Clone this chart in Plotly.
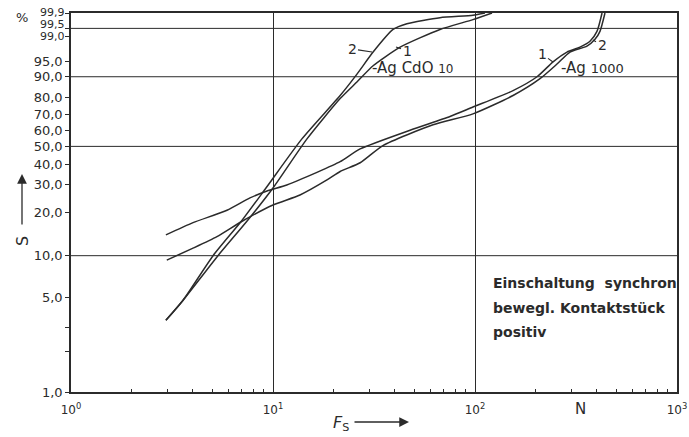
import numpy as np
import plotly.graph_objects as go

# ---------------- data (N = switching operations, S = cumulative %) -------------
agcdo1_n = [2.95, 3.58, 5.34, 7.46, 10.0, 14.7, 21.5, 26.1, 31.3, 42.6, 67.1, 97.7, 121.4]
agcdo1_s = [3.4, 4.75, 10.0, 17.5, 28.7, 54.4, 79.4, 87.9, 93.8, 97.84, 99.45, 99.79, 99.9]

agcdo2_n = [2.95, 3.58, 5.05, 7.0, 9.23, 13.87, 21.5, 26.1, 31.3, 39.3, 46.0, 67.1, 97.7, 112.0]
agcdo2_s = [3.4, 4.75, 10.0, 17.5, 28.7, 54.4, 81.1, 91.1, 97.05, 99.45, 99.68, 99.83, 99.87, 99.9]

ag1_n = [2.95, 4.02, 5.92, 7.69, 9.34, 11.7, 16.5, 21.5, 27.0, 47.7, 75.2, 97.7,
         154.3, 202.8, 243.4, 285.3, 331.0, 370.8, 401.6, 425.5]
ag1_s = [14.0, 17.0, 20.6, 24.8, 27.5, 30.0, 35.8, 41.3, 48.5, 60.0, 68.7, 74.5,
         83.7, 90.0, 94.9, 97.05, 97.84, 98.57, 99.35, 99.9]

ag2_n = [2.98, 4.02, 5.28, 7.10, 10.0, 13.6, 18.5, 21.5, 27.0, 35.0, 62.0, 97.7,
         154.3, 209.8, 254.7, 295.3, 358.3, 392.7, 415.6, 440.0]
ag2_s = [9.3, 11.3, 13.6, 17.5, 22.3, 25.9, 32.2, 36.2, 40.7, 50.5, 63.4, 70.3,
         81.1, 89.2, 94.3, 97.05, 97.98, 98.76, 99.35, 99.9]

# y ticks; the three crowded top labels are set as separate texts
y_tick_vals = [99.9, 99.5, 99.0, 95.0, 90.0, 80.0, 70.0, 60.0, 50.0, 40.0, 30.0,
               20.0, 10.0, 5.0, 3.0, 2.0, 1.0]
y_tick_text = ["", "", "", "95,0", "90,0", "80,0", "70,0", "60,0", "50,0",
               "40,0", "30,0", "20,0", "10,0", "5,0", "", "", "1,0"]
y_top_labels = ["99,9", "99,5", "99,0"]
y_grid_vals = [99.5, 90.0, 50.0, 10.0]
y_range_pct = [1.0, 99.9]

x_tick_vals = [1, 10, 100, 1000]
x_tick_text = ["10<sup>0</sup>", "10<sup>1</sup>", "10<sup>2</sup>", "10<sup>3</sup>"]
x_minor_vals = [m * d for d in (1, 10, 100) for m in range(2, 10)]


def weib(p):
    """Weibull probability scale: ln(-ln(1-F))."""
    p = np.asarray(p, dtype=float) / 100.0
    return np.log(-np.log(1.0 - p))


INK = "#2b2b2b"
FONT = "DejaVu Sans"

fig = go.Figure()
for n, s in [(agcdo1_n, agcdo1_s), (agcdo2_n, agcdo2_s), (ag1_n, ag1_s), (ag2_n, ag2_s)]:
    fig.add_trace(go.Scatter(x=n, y=weib(s), mode="lines",
                             line=dict(color=INK, width=1.5, shape="spline", smoothing=0.6),
                             showlegend=False, hoverinfo="skip"))

# horizontal grid lines
for g in y_grid_vals:
    fig.add_shape(type="line", xref="paper", x0=0, x1=1, yref="y",
                  y0=float(weib(g)), y1=float(weib(g)),
                  line=dict(color=INK, width=1), layer="below")

L, R, T, B = 71, 12, 13, 45
W, H = 689, 437
PW, PH = W - L - R, H - T - B


def px(xp):
    return (xp - L) / PW


def py(yp):
    return (H - B - yp) / PH


def text_at(txt, x, y, size=14, xanchor="center", **kw):
    d = dict(text=txt, x=px(x), y=py(y), xref="paper", yref="paper", xanchor=xanchor,
             yanchor="middle", showarrow=False,
             font=dict(size=size, family=FONT, color=INK, **kw.pop("fontkw", {})))
    d.update(kw)
    return d


def leader(txt, x, y, ax, ay):
    return dict(text=txt, x=px(x), y=py(y), xref="paper", yref="paper", showarrow=True,
                ax=ax, ay=ay, arrowhead=0, arrowwidth=1.1, arrowcolor=INK, standoff=0,
                font=dict(size=14, family=FONT, color=INK))


ann = []
# crowded top y labels (squeezed like the original)
for txt, yy in zip(y_top_labels, [12.5, 24.5, 36.5]):
    ann.append(text_at(txt, 67, yy, size=11, xanchor="right"))
ann.append(text_at("%", 22, 17, size=13))
# axis titles
ann.append(text_at("S", 22, 241, size=16, textangle=-90))
ann.append(dict(text="", x=px(22), y=py(174), xref="paper", yref="paper", showarrow=True,
                ax=0, ay=52, arrowhead=2, arrowsize=1.5, arrowwidth=1.3, arrowcolor=INK))
ann.append(text_at("<i>F</i><sub>S</sub>", 341, 423, size=16))
ann.append(dict(text="", x=px(409), y=py(422), xref="paper", yref="paper", showarrow=True,
                ax=-56, ay=0, arrowhead=2, arrowsize=1.5, arrowwidth=1.3, arrowcolor=INK))
ann.append(text_at("N", 580, 409, size=15))

# curve labels
ann.append(leader("2", 372, 52, -20, -3))
ann.append(leader("1", 396, 47, 11, 4))
ann.append(text_at("-Ag CdO <span style='font-size:12px'>10</span>", 370, 68, size=15,
                   xanchor="left"))
ann.append(leader("1", 553, 62, -11, -8))
ann.append(text_at("-Ag <span style='font-size:13px'>1000</span>", 559, 68, size=15,
                   xanchor="left"))
ann.append(leader("2", 593, 40, 9, 5))

# description text
desc_lines = ["Einschaltung  synchron", "bewegl. Kontaktstück", "positiv"]
for txt, yy in zip(desc_lines, [283, 308, 332]):
    ann.append(text_at(txt, 491, yy, size=14, xanchor="left", fontkw=dict(weight=600)))

fig.update_layout(
    width=W, height=H, margin=dict(l=L, r=R, t=T, b=B, autoexpand=False),
    paper_bgcolor="white", plot_bgcolor="white",
    font=dict(family=FONT, color=INK),
    annotations=ann,
    xaxis=dict(type="log", range=[0, 3], tickvals=x_tick_vals, ticktext=x_tick_text,
               showgrid=True, gridcolor=INK, gridwidth=1, zeroline=False, automargin=False,
               showline=True, linecolor=INK, linewidth=1.6, mirror=True,
               ticks="", ticklabelstandoff=6, tickfont=dict(size=12, family=FONT, color=INK),
               minor=dict(tickvals=x_minor_vals, ticks="inside", ticklen=3,
                          tickcolor=INK, showgrid=False)),
    yaxis=dict(range=[float(weib(y_range_pct[0])), float(weib(y_range_pct[1]))],
               tickvals=[float(v) for v in weib(y_tick_vals)], ticktext=y_tick_text,
               showgrid=False, zeroline=False, automargin=False,
               showline=True, linecolor=INK, linewidth=1.6, mirror=True,
               ticks="outside", ticklen=4, tickcolor=INK,
               tickfont=dict(size=13, family=FONT, color=INK)),
)

fig.write_html("out.html")
